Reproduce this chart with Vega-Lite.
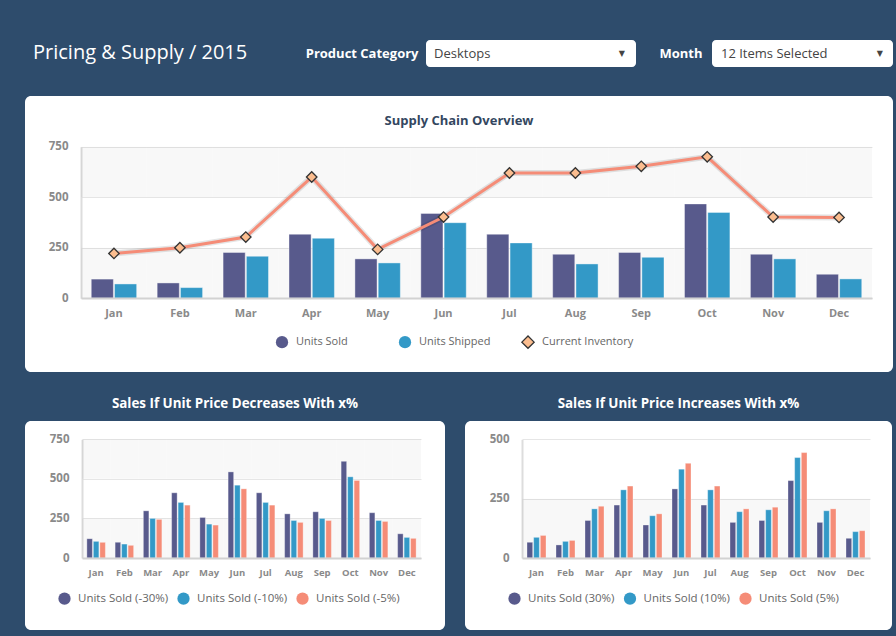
{
  "$schema": "https://vega.github.io/schema/vega-lite/v6.json",
  "background": "#2e4c6c",
  "padding": {"left": 25, "top": 40, "right": 3, "bottom": 10},
  "config": {
    "font": "Open Sans",
    "view": {"stroke": null},
    "axis": {"labelFont": "Open Sans", "titleFont": "Open Sans"},
    "legend": {"labelFont": "Open Sans", "titleFont": "Open Sans"},
    "title": {"font": "Open Sans"}
  },
  "datasets": {
    "filters": [
      {"filter": "Product Category", "value": "Desktops"},
      {"filter": "Month", "value": "12 Items Selected"}
    ],
    "supply": [
      {"month": "Jan", "series": "Units Sold", "value": 95},
      {"month": "Feb", "series": "Units Sold", "value": 76},
      {"month": "Mar", "series": "Units Sold", "value": 227},
      {"month": "Apr", "series": "Units Sold", "value": 317},
      {"month": "May", "series": "Units Sold", "value": 195},
      {"month": "Jun", "series": "Units Sold", "value": 420},
      {"month": "Jul", "series": "Units Sold", "value": 317},
      {"month": "Aug", "series": "Units Sold", "value": 218},
      {"month": "Sep", "series": "Units Sold", "value": 227},
      {"month": "Oct", "series": "Units Sold", "value": 467},
      {"month": "Nov", "series": "Units Sold", "value": 218},
      {"month": "Dec", "series": "Units Sold", "value": 119},
      {"month": "Jan", "series": "Units Shipped", "value": 71},
      {"month": "Feb", "series": "Units Shipped", "value": 53},
      {"month": "Mar", "series": "Units Shipped", "value": 208},
      {"month": "Apr", "series": "Units Shipped", "value": 297},
      {"month": "May", "series": "Units Shipped", "value": 175},
      {"month": "Jun", "series": "Units Shipped", "value": 374},
      {"month": "Jul", "series": "Units Shipped", "value": 274},
      {"month": "Aug", "series": "Units Shipped", "value": 170},
      {"month": "Sep", "series": "Units Shipped", "value": 203},
      {"month": "Oct", "series": "Units Shipped", "value": 425},
      {"month": "Nov", "series": "Units Shipped", "value": 195},
      {"month": "Dec", "series": "Units Shipped", "value": 96},
      {"month": "Jan", "series": "Current Inventory", "value": 222},
      {"month": "Feb", "series": "Current Inventory", "value": 250},
      {"month": "Mar", "series": "Current Inventory", "value": 303},
      {"month": "Apr", "series": "Current Inventory", "value": 600},
      {"month": "May", "series": "Current Inventory", "value": 242},
      {"month": "Jun", "series": "Current Inventory", "value": 402},
      {"month": "Jul", "series": "Current Inventory", "value": 620},
      {"month": "Aug", "series": "Current Inventory", "value": 620},
      {"month": "Sep", "series": "Current Inventory", "value": 653},
      {"month": "Oct", "series": "Current Inventory", "value": 700},
      {"month": "Nov", "series": "Current Inventory", "value": 402},
      {"month": "Dec", "series": "Current Inventory", "value": 400}
    ],
    "decrease": [
      {"month": "Jan", "series": "Units Sold (-30%)", "value": 122},
      {"month": "Feb", "series": "Units Sold (-30%)", "value": 99},
      {"month": "Mar", "series": "Units Sold (-30%)", "value": 298},
      {"month": "Apr", "series": "Units Sold (-30%)", "value": 412},
      {"month": "May", "series": "Units Sold (-30%)", "value": 256},
      {"month": "Jun", "series": "Units Sold (-30%)", "value": 544},
      {"month": "Jul", "series": "Units Sold (-30%)", "value": 412},
      {"month": "Aug", "series": "Units Sold (-30%)", "value": 279},
      {"month": "Sep", "series": "Units Sold (-30%)", "value": 292},
      {"month": "Oct", "series": "Units Sold (-30%)", "value": 611},
      {"month": "Nov", "series": "Units Sold (-30%)", "value": 286},
      {"month": "Dec", "series": "Units Sold (-30%)", "value": 153},
      {"month": "Jan", "series": "Units Sold (-10%)", "value": 105},
      {"month": "Feb", "series": "Units Sold (-10%)", "value": 88},
      {"month": "Mar", "series": "Units Sold (-10%)", "value": 250},
      {"month": "Apr", "series": "Units Sold (-10%)", "value": 351},
      {"month": "May", "series": "Units Sold (-10%)", "value": 214},
      {"month": "Jun", "series": "Units Sold (-10%)", "value": 460},
      {"month": "Jul", "series": "Units Sold (-10%)", "value": 351},
      {"month": "Aug", "series": "Units Sold (-10%)", "value": 237},
      {"month": "Sep", "series": "Units Sold (-10%)", "value": 250},
      {"month": "Oct", "series": "Units Sold (-10%)", "value": 513},
      {"month": "Nov", "series": "Units Sold (-10%)", "value": 237},
      {"month": "Dec", "series": "Units Sold (-10%)", "value": 130},
      {"month": "Jan", "series": "Units Sold (-5%)", "value": 99},
      {"month": "Feb", "series": "Units Sold (-5%)", "value": 80},
      {"month": "Mar", "series": "Units Sold (-5%)", "value": 244},
      {"month": "Apr", "series": "Units Sold (-5%)", "value": 334},
      {"month": "May", "series": "Units Sold (-5%)", "value": 208},
      {"month": "Jun", "series": "Units Sold (-5%)", "value": 437},
      {"month": "Jul", "series": "Units Sold (-5%)", "value": 334},
      {"month": "Aug", "series": "Units Sold (-5%)", "value": 225},
      {"month": "Sep", "series": "Units Sold (-5%)", "value": 237},
      {"month": "Oct", "series": "Units Sold (-5%)", "value": 490},
      {"month": "Nov", "series": "Units Sold (-5%)", "value": 231},
      {"month": "Dec", "series": "Units Sold (-5%)", "value": 124}
    ],
    "increase": [
      {"month": "Jan", "series": "Units Sold (30%)", "value": 66},
      {"month": "Feb", "series": "Units Sold (30%)", "value": 55},
      {"month": "Mar", "series": "Units Sold (30%)", "value": 158},
      {"month": "Apr", "series": "Units Sold (30%)", "value": 223},
      {"month": "May", "series": "Units Sold (30%)", "value": 139},
      {"month": "Jun", "series": "Units Sold (30%)", "value": 291},
      {"month": "Jul", "series": "Units Sold (30%)", "value": 223},
      {"month": "Aug", "series": "Units Sold (30%)", "value": 150},
      {"month": "Sep", "series": "Units Sold (30%)", "value": 158},
      {"month": "Oct", "series": "Units Sold (30%)", "value": 326},
      {"month": "Nov", "series": "Units Sold (30%)", "value": 150},
      {"month": "Dec", "series": "Units Sold (30%)", "value": 83},
      {"month": "Jan", "series": "Units Sold (10%)", "value": 87},
      {"month": "Feb", "series": "Units Sold (10%)", "value": 70},
      {"month": "Mar", "series": "Units Sold (10%)", "value": 207},
      {"month": "Apr", "series": "Units Sold (10%)", "value": 287},
      {"month": "May", "series": "Units Sold (10%)", "value": 178},
      {"month": "Jun", "series": "Units Sold (10%)", "value": 374},
      {"month": "Jul", "series": "Units Sold (10%)", "value": 287},
      {"month": "Aug", "series": "Units Sold (10%)", "value": 195},
      {"month": "Sep", "series": "Units Sold (10%)", "value": 203},
      {"month": "Oct", "series": "Units Sold (10%)", "value": 423},
      {"month": "Nov", "series": "Units Sold (10%)", "value": 199},
      {"month": "Dec", "series": "Units Sold (10%)", "value": 111},
      {"month": "Jan", "series": "Units Sold (5%)", "value": 95},
      {"month": "Feb", "series": "Units Sold (5%)", "value": 74},
      {"month": "Mar", "series": "Units Sold (5%)", "value": 218},
      {"month": "Apr", "series": "Units Sold (5%)", "value": 303},
      {"month": "May", "series": "Units Sold (5%)", "value": 186},
      {"month": "Jun", "series": "Units Sold (5%)", "value": 399},
      {"month": "Jul", "series": "Units Sold (5%)", "value": 303},
      {"month": "Aug", "series": "Units Sold (5%)", "value": 207},
      {"month": "Sep", "series": "Units Sold (5%)", "value": 214},
      {"month": "Oct", "series": "Units Sold (5%)", "value": 444},
      {"month": "Nov", "series": "Units Sold (5%)", "value": 207},
      {"month": "Dec", "series": "Units Sold (5%)", "value": 115}
    ]
  },
  "spacing": 24,
  "resolve": {
    "scale": {"x": "independent", "y": "independent", "color": "independent", "xOffset": "independent", "shape": "independent", "stroke": "independent"},
    "axis": {"x": "independent", "y": "independent"},
    "legend": {"color": "independent", "shape": "independent", "stroke": "independent"}
  },
  "vconcat": [
    {
      "spacing": 17,
      "resolve": {
        "scale": {"x": "independent", "y": "independent"},
        "axis": {"x": "independent", "y": "independent"}
      },
      "hconcat": [
        {
          "width": 260,
          "height": 32,
          "data": {"values": [{"heading": "Pricing & Supply / 2015"}]},
          "mark": {"type": "text", "align": "left", "baseline": "middle", "dx": 8, "dy": -3, "fontSize": 20, "color": "#ffffff", "font": "Open Sans"},
          "encoding": {
            "x": {"datum": 0, "type": "quantitative", "scale": {"domain": [0, 1]}, "axis": null},
            "text": {"field": "heading", "type": "nominal"}
          }
        },
        {
          "width": 210,
          "height": 27,
          "view": {"fill": "#ffffff", "stroke": null, "cornerRadius": 4},
          "data": {"name": "filters"},
          "transform": [{"filter": "datum.filter === 'Product Category'"}],
          "encoding": {
            "y": {"field": "filter", "type": "nominal", "title": null,
              "axis": {"domain": false, "ticks": false, "tickSize": 0, "labelColor": "#ffffff", "labelFontSize": 13, "labelFontWeight": "bold", "labelPadding": 8, "minExtent": 124, "maxExtent": 124}}
          },
          "layer": [
            {
              "mark": {"type": "text", "align": "left", "baseline": "middle", "dx": 8, "fontSize": 13, "color": "#444444"},
              "encoding": {
                "x": {"datum": 0, "type": "quantitative", "scale": {"domain": [0, 1]}, "axis": null},
                "text": {"field": "value", "type": "nominal"}
              }
            },
            {
              "mark": {"type": "text", "align": "right", "baseline": "middle", "dx": -11, "fontSize": 8, "color": "#444444", "font": "DejaVu Sans", "text": "▼"},
              "encoding": {
                "x": {"datum": 1, "type": "quantitative", "scale": {"domain": [0, 1]}, "axis": null}
              }
            }
          ]
        },
        {
          "width": 181,
          "height": 27,
          "view": {"fill": "#ffffff", "stroke": null, "cornerRadius": 4},
          "data": {"name": "filters"},
          "transform": [{"filter": "datum.filter === 'Month'"}],
          "encoding": {
            "y": {"field": "filter", "type": "nominal", "title": null,
              "axis": {"domain": false, "ticks": false, "tickSize": 0, "labelColor": "#ffffff", "labelFontSize": 13, "labelFontWeight": "bold", "labelPadding": 10, "minExtent": 59, "maxExtent": 59}}
          },
          "layer": [
            {
              "mark": {"type": "text", "align": "left", "baseline": "middle", "dx": 9, "fontSize": 13, "color": "#444444"},
              "encoding": {
                "x": {"datum": 0, "type": "quantitative", "scale": {"domain": [0, 1]}, "axis": null},
                "text": {"field": "value", "type": "nominal"}
              }
            },
            {
              "mark": {"type": "text", "align": "right", "baseline": "middle", "dx": -10, "fontSize": 8, "color": "#444444", "font": "DejaVu Sans", "text": "▼"},
              "encoding": {
                "x": {"datum": 1, "type": "quantitative", "scale": {"domain": [0, 1]}, "axis": null}
              }
            }
          ]
        }
      ]
    },
    {
      "width": 868,
      "height": 276,
      "view": {"fill": "#ffffff", "stroke": null, "cornerRadius": 6},
      "title": {"text": "Supply Chain Overview", "fontSize": 13, "fontWeight": "bold", "color": "#34475f", "anchor": "middle", "frame": "group", "offset": -32},
      "data": {"name": "supply"},
      "encoding": {
        "x": {"field": "month", "type": "nominal", "title": null,
          "sort": ["Jan", "Feb", "Mar", "Apr", "May", "Jun", "Jul", "Aug", "Sep", "Oct", "Nov", "Dec"],
          "scale": {"range": [56, 847], "paddingInner": 0, "paddingOuter": 0},
          "axis": {"orient": "bottom", "offset": -74, "labelAngle": 0, "labelFontWeight": "bold", "labelFontSize": 11, "labelColor": "#8a8a8a", "labelPadding": 9, "ticks": false, "tickSize": 0, "domainColor": "#d2d2d2", "domainWidth": 2, "grid": false, "zindex": 1}}
      },
      "layer": [
        {
          "transform": [{"filter": "datum.series === 'Units Sold'"}],
          "mark": {"type": "rect", "color": "#000000", "opacity": 0.027},
          "encoding": {"y": {"datum": 0, "type": "quantitative", "title": null}, "y2": {"datum": 250}}
        },
        {
          "transform": [{"filter": "datum.series === 'Units Sold'"}],
          "mark": {"type": "rect", "color": "#000000", "opacity": 0.027},
          "encoding": {"y": {"datum": 500, "type": "quantitative", "title": null}, "y2": {"datum": 750}}
        },
        {
          "transform": [{"filter": "datum.series !== 'Current Inventory'"}],
          "mark": {"type": "bar", "stroke": "#ffffff", "strokeOpacity": 0.4, "strokeWidth": 1},
          "encoding": {
            "y": {"field": "value", "type": "quantitative", "title": null,
              "scale": {"domain": [0, 750], "range": [202.3, 50.7], "nice": false},
              "axis": {"orient": "left", "offset": -56, "values": [0, 250, 500, 750], "labelFontWeight": "bold", "labelFontSize": 11.5, "labelColor": "#8a8a8a", "labelPadding": 13, "ticks": false, "tickSize": 0, "domainColor": "#dddddd", "domainWidth": 2, "grid": true, "gridColor": "#e6e6e6", "gridWidth": 1}},
            "xOffset": {"field": "series", "type": "nominal", "sort": ["Units Sold", "Units Shipped"], "scale": {"paddingInner": 0.05, "paddingOuter": 0.44}},
            "color": {"field": "series", "type": "nominal",
              "scale": {"domain": ["Units Sold", "Units Shipped", "Current Inventory"], "range": ["#585a8c", "#3399c7", "#fbbd8f"]},
              "legend": {"orient": "none", "legendX": 250, "legendY": 239, "direction": "horizontal", "title": null, "symbolType": "circle", "symbolSize": 150, "symbolStrokeWidth": 1.3, "labelFontSize": 11, "labelColor": "#666666", "labelOffset": 7, "columnPadding": 8, "gridAlign": "all", "padding": 0}
            }
          }
        },
        {
          "transform": [{"filter": "datum.series === 'Current Inventory'"}],
          "mark": {"type": "line", "color": "#000000", "opacity": 0.1, "strokeWidth": 6},
          "encoding": {"y": {"field": "value", "type": "quantitative", "title": null}}
        },
        {
          "transform": [{"filter": "datum.series === 'Current Inventory'"}],
          "mark": {"type": "line", "color": "#f58c77", "strokeWidth": 3},
          "encoding": {"y": {"field": "value", "type": "quantitative", "title": null}}
        },
        {
          "transform": [{"filter": "datum.series === 'Current Inventory'"}],
          "mark": {"type": "point", "filled": true, "size": 110, "strokeWidth": 1.3, "opacity": 1},
          "encoding": {
            "y": {"field": "value", "type": "quantitative", "title": null},
            "color": {"field": "series", "type": "nominal"},
            "shape": {"field": "series", "type": "nominal",
              "scale": {"domain": ["Units Sold", "Units Shipped", "Current Inventory"], "range": ["circle", "circle", "diamond"]}},
            "stroke": {"field": "series", "type": "nominal",
              "scale": {"domain": ["Units Sold", "Units Shipped", "Current Inventory"], "range": ["transparent", "transparent", "#333333"]}}
          }
        }
      ]
    },
    {
      "spacing": 20,
      "resolve": {
        "scale": {"x": "independent", "y": "independent", "color": "independent", "xOffset": "independent"},
        "axis": {"x": "independent", "y": "independent"},
        "legend": {"color": "independent"}
      },
      "hconcat": [
        {
          "width": 420,
          "height": 209,
          "view": {"fill": "#ffffff", "stroke": null, "cornerRadius": 6},
          "title": {"text": "Sales If Unit Price Decreases With x%", "fontSize": 13.4, "fontWeight": "bold", "color": "#ffffff", "anchor": "middle", "frame": "group", "offset": 11},
          "data": {"name": "decrease"},
          "encoding": {
            "x": {"field": "month", "type": "nominal", "title": null,
              "sort": ["Jan", "Feb", "Mar", "Apr", "May", "Jun", "Jul", "Aug", "Sep", "Oct", "Nov", "Dec"],
              "scale": {"range": [57, 396], "paddingInner": 0, "paddingOuter": 0},
              "axis": {"orient": "bottom", "offset": -72, "labelAngle": 0, "labelFontWeight": "bold", "labelFontSize": 9.5, "labelColor": "#8a8a8a", "labelPadding": 9, "ticks": false, "tickSize": 0, "domainColor": "#d2d2d2", "domainWidth": 2, "grid": false, "zindex": 1}}
          },
          "layer": [
            {
              "transform": [{"filter": "datum.series === 'Units Sold (-30%)'"}],
              "mark": {"type": "rect", "color": "#000000", "opacity": 0.027},
              "encoding": {"y": {"datum": 0, "type": "quantitative", "title": null}, "y2": {"datum": 250}}
            },
            {
              "transform": [{"filter": "datum.series === 'Units Sold (-30%)'"}],
              "mark": {"type": "rect", "color": "#000000", "opacity": 0.027},
              "encoding": {"y": {"datum": 500, "type": "quantitative", "title": null}, "y2": {"datum": 750}}
            },
            {
              "mark": {"type": "bar", "stroke": "#ffffff", "strokeOpacity": 0.4, "strokeWidth": 0.8},
              "encoding": {
                "y": {"field": "value", "type": "quantitative", "title": null,
                  "scale": {"domain": [0, 750], "range": [137, 18.3], "nice": false},
                  "axis": {"orient": "left", "offset": -57, "values": [0, 250, 500, 750], "labelFontWeight": "bold", "labelFontSize": 11.5, "labelColor": "#8a8a8a", "labelPadding": 13, "ticks": false, "tickSize": 0, "domainColor": "#dddddd", "domainWidth": 2, "grid": true, "gridColor": "#e6e6e6", "gridWidth": 1}},
                "xOffset": {"field": "series", "type": "nominal", "sort": ["Units Sold (-30%)", "Units Sold (-10%)", "Units Sold (-5%)"], "scale": {"paddingInner": 0.15, "paddingOuter": 0.75}},
                "color": {"field": "series", "type": "nominal",
                  "scale": {"domain": ["Units Sold (-30%)", "Units Sold (-10%)", "Units Sold (-5%)"], "range": ["#585a8c", "#3399c7", "#f58c77"]},
                  "legend": {"orient": "none", "legendX": 33, "legendY": 171, "direction": "horizontal", "title": null, "symbolType": "circle", "symbolSize": 150, "symbolStrokeWidth": 0, "labelFontSize": 11.5, "labelColor": "#666666", "labelOffset": 7, "columnPadding": 8, "gridAlign": "all", "padding": 0}
                }
              }
            }
          ]
        },
        {
          "width": 427,
          "height": 209,
          "view": {"fill": "#ffffff", "stroke": null, "cornerRadius": 6},
          "title": {"text": "Sales If Unit Price Increases With x%", "fontSize": 13.4, "fontWeight": "bold", "color": "#ffffff", "anchor": "middle", "frame": "group", "offset": 11},
          "data": {"name": "increase"},
          "encoding": {
            "x": {"field": "month", "type": "nominal", "title": null,
              "sort": ["Jan", "Feb", "Mar", "Apr", "May", "Jun", "Jul", "Aug", "Sep", "Oct", "Nov", "Dec"],
              "scale": {"range": [57, 405], "paddingInner": 0, "paddingOuter": 0},
              "axis": {"orient": "bottom", "offset": -72, "labelAngle": 0, "labelFontWeight": "bold", "labelFontSize": 9.5, "labelColor": "#8a8a8a", "labelPadding": 9, "ticks": false, "tickSize": 0, "domainColor": "#d2d2d2", "domainWidth": 2, "grid": false, "zindex": 1}}
          },
          "layer": [
            {
              "transform": [{"filter": "datum.series === 'Units Sold (30%)'"}],
              "mark": {"type": "rect", "color": "#000000", "opacity": 0.027},
              "encoding": {"y": {"datum": 0, "type": "quantitative", "title": null}, "y2": {"datum": 250}}
            },
            {
              "mark": {"type": "bar", "stroke": "#ffffff", "strokeOpacity": 0.4, "strokeWidth": 0.8},
              "encoding": {
                "y": {"field": "value", "type": "quantitative", "title": null,
                  "scale": {"domain": [0, 500], "range": [137, 18.3], "nice": false},
                  "axis": {"orient": "left", "offset": -57, "values": [0, 250, 500], "labelFontWeight": "bold", "labelFontSize": 11.5, "labelColor": "#8a8a8a", "labelPadding": 13, "ticks": false, "tickSize": 0, "domainColor": "#dddddd", "domainWidth": 2, "grid": true, "gridColor": "#e6e6e6", "gridWidth": 1}},
                "xOffset": {"field": "series", "type": "nominal", "sort": ["Units Sold (30%)", "Units Sold (10%)", "Units Sold (5%)"], "scale": {"paddingInner": 0.15, "paddingOuter": 0.75}},
                "color": {"field": "series", "type": "nominal",
                  "scale": {"domain": ["Units Sold (30%)", "Units Sold (10%)", "Units Sold (5%)"], "range": ["#585a8c", "#3399c7", "#f58c77"]},
                  "legend": {"orient": "none", "legendX": 43, "legendY": 171, "direction": "horizontal", "title": null, "symbolType": "circle", "symbolSize": 150, "symbolStrokeWidth": 0, "labelFontSize": 11.5, "labelColor": "#666666", "labelOffset": 7, "columnPadding": 8.5, "gridAlign": "all", "padding": 0}
                }
              }
            }
          ]
        }
      ]
    }
  ]
}
